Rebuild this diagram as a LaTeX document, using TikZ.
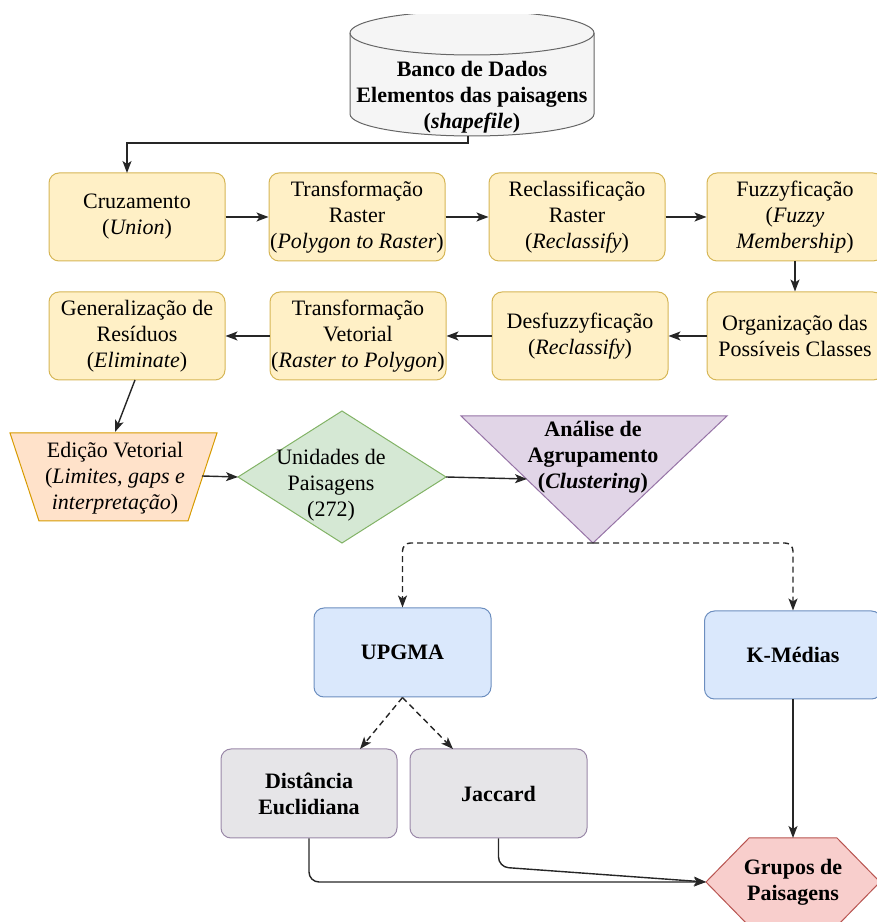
\documentclass[tikz,border=0pt]{standalone}
\usepackage{fontspec}
\setmainfont{Liberation Serif}
\usetikzlibrary{arrows.meta}
\definecolor{yfill}{HTML}{FFF0C6}
\definecolor{ydraw}{HTML}{D6B656}
\definecolor{bfill}{HTML}{DAE8FC}
\definecolor{bdraw}{HTML}{6C8EBF}
\definecolor{gfill}{HTML}{D5E8D4}
\definecolor{gdraw}{HTML}{82B366}
\definecolor{pfill}{HTML}{E1D5E7}
\definecolor{pdraw}{HTML}{9673A6}
\definecolor{ofill}{HTML}{FFE2CA}
\definecolor{odraw}{HTML}{D79B00}
\definecolor{rfill}{HTML}{F8CECC}
\definecolor{rdraw}{HTML}{B85450}
\definecolor{kfill}{HTML}{E6E5E8}
\definecolor{kdraw}{HTML}{9A88A8}
\definecolor{cfill}{HTML}{F5F5F5}
\definecolor{cdraw}{HTML}{666666}
\begin{document}
\begin{tikzpicture}[x=1pt,y=1pt,
  font=\fontsize{22}{26}\selectfont,
  arr/.style={-{Stealth[length=12pt,width=9pt,inset=3pt]}, line width=1.4pt, draw=black!85},
  dasharr/.style={arr, dash pattern=on 6pt off 4pt},
  basebox/.style={rectangle, rounded corners=10pt, minimum width=176pt, minimum height=88pt, align=center, inner sep=1pt, line width=1pt},
  ybox/.style={basebox, fill=yfill, draw=ydraw},
  bbox/.style={basebox, fill=bfill, draw=bdraw, font=\fontsize{22}{26}\selectfont\bfseries},
  kbox/.style={basebox, fill=kfill, draw=kdraw, font=\fontsize{22}{26}\selectfont\bfseries},
  txt/.style={align=center, inner sep=0pt},
  shp/.style={line width=1pt}
]
\useasboundingbox (0,0) rectangle (877,922);

% database cylinder (top cut flat, as in the reference)
\begin{scope}
\clip (0,0) rectangle (877,907);
\draw[shp, fill=cfill, draw=cdraw] (350,889) -- (350,808)
  arc[start angle=180,end angle=360,x radius=122,y radius=22] -- (594,889)
  arc[start angle=0,end angle=180,x radius=122,y radius=22] -- cycle;
\draw[shp, draw=cdraw] (350,889) arc[start angle=180,end angle=360,x radius=122,y radius=22];
\end{scope}
\node[txt, font=\fontsize{22}{26}\selectfont\bfseries] (db) at (472,825)
  {Banco de Dados\\Elementos das paisagens\\(\textit{shapefile})};
\coordinate (dbout) at (468,786);
\coordinate (dbbend) at (468,779);

% row 1
\node[ybox] (cruz) at (137,705) {Cruzamento\\(\textit{Union})};
\node[ybox] (trr) at (357,705) {Transformação\\Raster\\(\textit{Polygon to Raster})};
\node[ybox] (rec) at (577,705) {Reclassificação\\Raster\\(\textit{Reclassify})};
\node[ybox] (fuz) at (795,705) {Fuzzyficação\\(\textit{Fuzzy}\\\textit{Membership})};
% row 2
\node[ybox] (org) at (795,586) {Organização das\\Possíveis Classes};
\node[ybox] (des) at (580,586) {Desfuzzyficação\\(\textit{Reclassify})};
\node[ybox] (trv) at (358,586) {Transformação\\Vetorial\\(\textit{Raster to Polygon})};
\node[ybox] (gen) at (137,586) {Generalização de\\Resíduos\\(\textit{Eliminate})};

\coordinate (cruzin) at (127,749);
\draw[arr] (dbout) -- (dbbend) -| (cruzin);
\draw[arr] (cruz) -- (trr);
\draw[arr] (trr) -- (rec);
\draw[arr] (rec) -- (fuz);
\draw[arr] (fuz) -- (org);
\draw[arr] (org) -- (des);
\draw[arr] (des) -- (trv);
\draw[arr] (trv) -- (gen);

% trapezoid
\draw[shp, fill=ofill, draw=odraw] (10,489) -- (217,489) -- (188,401) -- (39,401) -- cycle;
\node[txt] (edit) at (115,444) {Edição Vetorial\\(\textit{Limites, gaps e}\\\textit{interpretação})};
\coordinate (genout) at (135,542);
\coordinate (editin) at (115,490);
\coordinate (editout) at (202,446);
\draw[arr] (genout) -- (editin);

% diamond
\draw[shp, fill=gfill, draw=gdraw] (238,445) -- (342,511) -- (446,445) -- (342,379) -- cycle;
\node[txt] (unid) at (331,437) {Unidades de\\Paisagens\\(272)};
\coordinate (unidW) at (238,445);
\coordinate (unidE) at (446,445);
\draw[arr] (editout) -- (unidW);

% triangle
\draw[shp, fill=pfill, draw=pdraw] (461,506) -- (727,506) -- (593,379) -- cycle;
\node[txt, font=\fontsize{22}{26}\selectfont\bfseries] (anal) at (593,465) {Análise de\\Agrupamento\\(\textit{Clustering})};
\coordinate (analin) at (527,443);
\coordinate (apex) at (593,379);
\draw[arr] (unidE) -- (analin);

% clustering methods
\node[bbox, minimum height=89pt, minimum width=177pt] (upg) at (402.5,269.5) {UPGMA};
\node[bbox, minimum width=177pt] (kmed) at (793,267) {K-Médias};
\draw[dasharr, rounded corners=8pt] (apex) -| (upg.north);
\draw[dasharr, rounded corners=8pt] (apex) -| (kmed.north);

\node[kbox, minimum height=89pt] (dist) at (309,128.5) {Distância\\Euclidiana};
\node[kbox, minimum height=89pt, minimum width=177pt] (jac) at (498.5,128.5) {Jaccard};
\coordinate (distin) at (360,173);
\coordinate (jacin) at (453,173);
\draw[dasharr] (upg.south) -- (distin);
\draw[dasharr] (upg.south) -- (jacin);

% hexagon
\draw[shp, fill=rfill, draw=rdraw] (706,40) -- (749,84) -- (837,84) -- (880,40) -- (837,-4) -- (749,-4) -- cycle;
\node[txt, font=\fontsize{22}{26}\selectfont\bfseries] (grp) at (793,40) {Grupos de\\Paisagens};
\coordinate (hexW) at (706,40);
\coordinate (hexN) at (793,84);
\coordinate (jacbend) at (498.5,55);
\draw[arr] (kmed.south) -- (hexN);
\draw[arr, rounded corners=10pt] (dist.south) |- (hexW);
\draw[arr, rounded corners=10pt] (jac.south) -- (jacbend) -- (hexW);
\end{tikzpicture}
\end{document}
